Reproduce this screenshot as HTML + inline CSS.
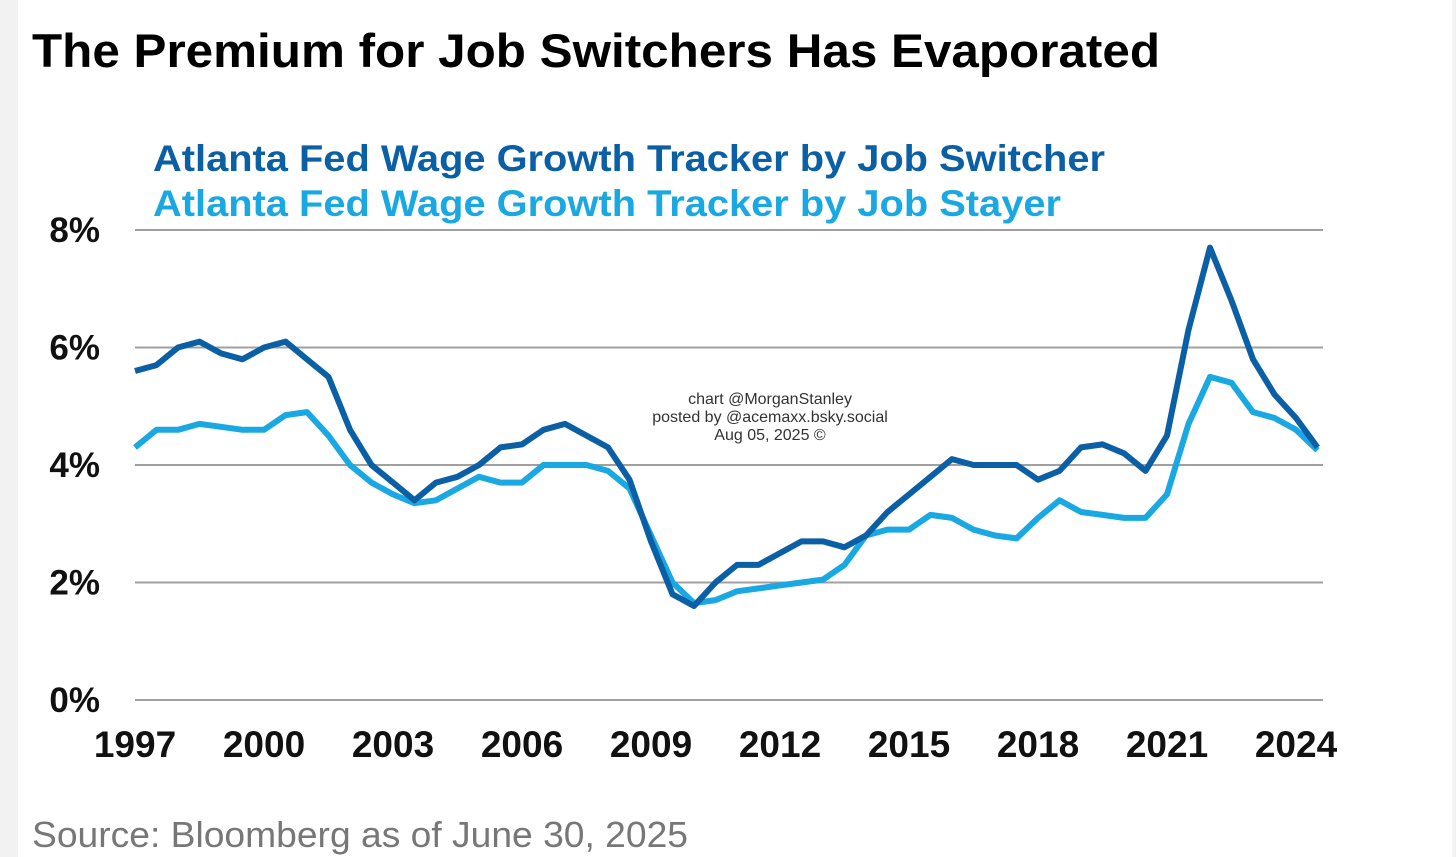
<!DOCTYPE html>
<html><head><meta charset="utf-8"><style>
html,body{margin:0;padding:0;width:1456px;height:857px;overflow:hidden;background:#f2f2f2;font-family:"Liberation Sans","DejaVu Sans",sans-serif}
#card{position:absolute;left:18px;top:0;width:1434px;height:857px;background:#fff}
</style></head><body>
<div id="card"></div>
<svg id="chart" width="1456" height="857" style="position:absolute;left:0;top:0">
<text x="32" y="67" font-size="47" font-weight="bold" fill="#000" textLength="1128" lengthAdjust="spacingAndGlyphs">The Premium for Job Switchers Has Evaporated</text>
<text x="153" y="171" font-size="37" font-weight="bold" fill="#0b5fa5" textLength="952" lengthAdjust="spacingAndGlyphs">Atlanta Fed Wage Growth Tracker by Job Switcher</text>
<text x="153" y="216" font-size="37" font-weight="bold" fill="#1aa8e2" textLength="908" lengthAdjust="spacingAndGlyphs">Atlanta Fed Wage Growth Tracker by Job Stayer</text>
<g id="grid"></g><g id="lines"></g>
<g font-size="16" fill="#333" text-anchor="middle">
<text x="770" y="404">chart @MorganStanley</text><text x="770" y="422">posted by @acemaxx.bsky.social</text><text x="770" y="440">Aug 05, 2025 ©</text></g>
<text x="32" y="847" font-size="36" fill="#777" textLength="656" lengthAdjust="spacingAndGlyphs">Source: Bloomberg as of June 30, 2025</text>
</svg>
<script>
const yTicks=[0,2,4,6,8];
const xTicks=[1997,2000,2003,2006,2009,2012,2015,2018,2021,2024];
const startYear=1997, stepYears=0.5;
const switcher=[5.6,5.7,6.0,6.1,5.9,5.8,6.0,6.1,5.8,5.5,4.6,4.0,3.7,3.4,3.7,3.8,4.0,4.3,4.35,4.6,4.7,4.5,4.3,3.75,2.7,1.8,1.6,2.0,2.3,2.3,2.5,2.7,2.7,2.6,2.8,3.2,3.5,3.8,4.1,4.0,4.0,4.0,3.75,3.9,4.3,4.35,4.2,3.9,4.5,6.3,7.7,6.8,5.8,5.2,4.8,4.3];
const stayer=[4.3,4.6,4.6,4.7,4.65,4.6,4.6,4.85,4.9,4.5,4.0,3.7,3.5,3.35,3.4,3.6,3.8,3.7,3.7,4.0,4.0,4.0,3.9,3.6,2.8,2.0,1.65,1.7,1.85,1.9,1.95,2.0,2.05,2.3,2.8,2.9,2.9,3.15,3.1,2.9,2.8,2.75,3.1,3.4,3.2,3.15,3.1,3.1,3.5,4.7,5.5,5.4,4.9,4.8,4.6,4.25];
const NS='http://www.w3.org/2000/svg';
const xS=y=>135+(y-1997)*43;
const yS=v=>700-v*58.75;
const grid=document.getElementById('grid'),lines=document.getElementById('lines');
function mk(t,a,p){const e=document.createElementNS(NS,t);for(const k in a)e.setAttribute(k,a[k]);p.appendChild(e);return e;}
yTicks.forEach(v=>{
  const l=mk('line',{x1:135,x2:1323,y1:yS(v),y2:yS(v),stroke:'#a0a0a0','stroke-width':2},grid);
  
  
  const t=mk('text',{x:100,y:yS(v)+12,'font-size':35,'font-weight':'bold','text-anchor':'end',fill:'#111'},grid);
  t.textContent=v+'%';
  
  
});
xTicks.forEach(y=>{
  const t=mk('text',{x:xS(y),y:757,'font-size':37,'font-weight':'bold','text-anchor':'middle',fill:'#111'},grid);
  t.textContent=y;
  
  
});
function draw(arr,col,name){
  const d=arr.map((v,i)=>(i?'L':'M')+xS(startYear+i*stepYears).toFixed(1)+','+yS(v).toFixed(1)).join('');
  const p=mk('path',{d:d,fill:'none',stroke:col,'stroke-width':6,'stroke-linejoin':'round'},lines);
  
  
}
draw(stayer,'#1aa8e2','stayer-line');
draw(switcher,'#0b5fa5','switcher-line');
</script>
</body></html>
